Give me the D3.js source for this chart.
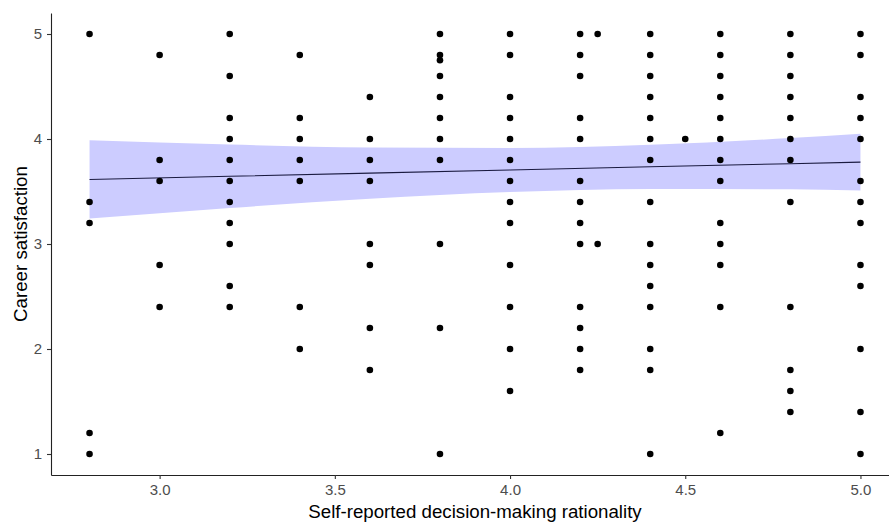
<!DOCTYPE html>
<html>
<head>
<meta charset="utf-8">
<script src="https://cdn.jsdelivr.net/npm/d3@7"></script>
<style>
  body { margin: 0; background: #fff; }
  svg { display: block; font-family: "Liberation Sans", Arial, sans-serif; }
</style>
</head>
<body>
<script>
// Canvas size
const w = 889;
const h = 523;

// x levels of rationality and the satisfaction scores seen at each level
const rationality = [2.8, 3.0, 3.2, 3.4, 3.6, 3.8, 4.0, 4.2, 4.25, 4.4, 4.5, 4.6, 4.8, 5.0];
const satisfaction = [
  [5, 3.4, 3.2, 1.2, 1],
  [4.8, 3.8, 3.6, 2.8, 2.4],
  [5, 4.6, 4.2, 4.0, 3.8, 3.6, 3.4, 3.2, 3.0, 2.6, 2.4],
  [4.8, 4.2, 4.0, 3.8, 3.6, 2.4, 2.0],
  [4.4, 4.0, 3.8, 3.6, 3.0, 2.8, 2.2, 1.8],
  [5, 4.8, 4.75, 4.6, 4.4, 4.2, 4.0, 3.8, 3.0, 2.2, 1.0],
  [5, 4.8, 4.4, 4.2, 4.0, 3.8, 3.6, 3.4, 3.2, 2.8, 2.4, 2.0, 1.6],
  [5, 4.8, 4.6, 4.2, 4.0, 3.6, 3.4, 3.2, 3.0, 2.4, 2.2, 2.0, 1.8],
  [5, 3.0],
  [5, 4.8, 4.6, 4.4, 4.2, 4.0, 3.8, 3.4, 3.0, 2.8, 2.6, 2.4, 2.0, 1.8, 1.0],
  [4.0],
  [5, 4.8, 4.6, 4.4, 4.2, 4.0, 3.8, 3.6, 3.2, 3.0, 2.8, 2.4, 1.2],
  [5, 4.8, 4.6, 4.4, 4.2, 4.0, 3.8, 3.4, 2.4, 1.8, 1.6, 1.4],
  [5, 4.8, 4.4, 4.2, 4.0, 3.6, 3.4, 3.2, 2.8, 2.6, 2.0, 1.4, 1.0]
];

// fitted line and confidence band
const fitX = [2.8, 3.2, 3.6, 4.0, 4.4, 4.8, 5.0];
const fitY = [3.615, 3.645, 3.675, 3.705, 3.735, 3.765, 3.78];
const ciLow = [3.243, 3.343, 3.431, 3.495, 3.525, 3.521, 3.509];
const ciHigh = [3.987, 3.947, 3.919, 3.915, 3.945, 4.009, 4.051];

// tick labels
const xTicks = [3.0, 3.5, 4.0, 4.5, 5.0];
const yTicks = [1, 2, 3, 4, 5];

const points = [];
rationality.forEach(function (x, i) {
  satisfaction[i].forEach(function (y) {
    points.push({ x: x, y: y });
  });
});
const band = fitX.map(function (x, i) {
  return { x: x, y: fitY[i], lo: ciLow[i], hi: ciHigh[i] };
});

const svg = d3.select("body").append("svg").attr("width", w).attr("height", h);

const xScale = d3.scaleLinear().domain([2.69, 5.11]).range([51, 899]);
const yScale = d3.scaleLinear().domain([0.8, 5.2]).range([475, 13]);

// confidence band
svg
  .append("path")
  .datum(band)
  .attr("fill", "#ccccff")
  .attr("d", d3.area()
    .x(function (d) { return xScale(d.x); })
    .y0(function (d) { return yScale(d.lo); })
    .y1(function (d) { return yScale(d.hi); })
    .curve(d3.curveMonotoneX));

// fitted line
svg
  .append("path")
  .datum(band)
  .attr("fill", "none")
  .attr("stroke", "#1a1a40")
  .attr("stroke-width", 1.1)
  .attr("d", d3.line()
    .x(function (d) { return xScale(d.x); })
    .y(function (d) { return yScale(d.y); }));

// points
svg
  .selectAll("circle")
  .data(points)
  .enter()
  .append("circle")
  .attr("cx", function (d) { return xScale(d.x); })
  .attr("cy", function (d) { return yScale(d.y); })
  .attr("r", 3.3)
  .attr("fill", "black");

// axes
const xAxis = svg
  .append("g")
  .attr("transform", "translate(0,475)")
  .call(d3.axisBottom(xScale).tickValues(xTicks).tickFormat(d3.format(".1f")).tickSizeInner(4).tickSizeOuter(0).tickPadding(5));
const yAxis = svg
  .append("g")
  .attr("transform", "translate(51,0)")
  .call(d3.axisLeft(yScale).tickValues(yTicks).tickFormat(d3.format("d")).tickSizeInner(4).tickSizeOuter(0).tickPadding(5));

[xAxis, yAxis].forEach(function (g) {
  g.select(".domain").attr("stroke", "#222").attr("stroke-width", 1.1);
  g.selectAll(".tick line").attr("stroke", "#333").attr("stroke-width", 1.1);
  g.selectAll(".tick text")
    .attr("fill", "#4d4d4d")
    .style("font-size", "15px")
    .style("font-family", "Liberation Sans, Arial, sans-serif");
});

// axis titles
svg
  .append("text")
  .attr("x", xScale(3.9))
  .attr("y", 518)
  .attr("text-anchor", "middle")
  .style("font-size", "18.7px")
  .attr("fill", "black")
  .text("Self-reported decision-making rationality");

svg
  .append("text")
  .attr("transform", "translate(27," + yScale(3) + ") rotate(-90)")
  .attr("text-anchor", "middle")
  .style("font-size", "18.7px")
  .attr("fill", "black")
  .text("Career satisfaction");
</script>
</body>
</html>
